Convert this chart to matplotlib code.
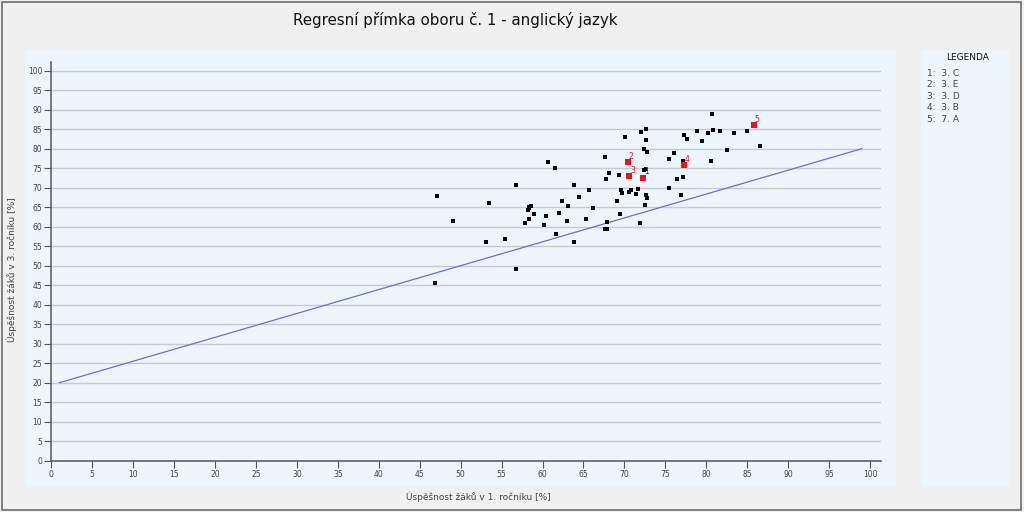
import matplotlib
matplotlib.use('Agg')
import matplotlib.pyplot as plt
from matplotlib.patches import Rectangle

plt.rcParams['font.family'] = ['DejaVu Sans']

# --------------------------
# DATA
# --------------------------
title = 'Regresní přímka oboru č. 1 - anglický jazyk'
x_label = 'Úspěšnost žáků v 1. ročníku [%]'
y_label = 'Úspěšnost žáků v 3. ročníku [%]'

# ostatní třídy (černé body)
x_other = [80.7, 70.1, 72.0, 72.6, 72.6, 72.4, 72.7, 77.3, 77.7, 78.9,
           80.2, 80.8, 81.7, 83.4, 85.0, 79.5, 86.6, 82.5, 76.0, 75.5,
           77.1, 80.6, 67.6, 60.7, 61.5, 72.4, 72.6, 68.1, 69.3, 67.8,
           76.4, 77.1, 56.7, 47.1, 63.9, 65.7, 69.6, 69.7, 70.5, 70.8,
           71.6, 71.4, 75.5, 72.6, 72.8, 76.9, 64.5, 53.4, 62.4, 69.1,
           63.1, 72.5, 58.6, 58.4, 58.3, 58.2, 66.2, 58.9, 62.0, 60.4,
           69.5, 49.1, 58.3, 57.9, 60.2, 63.0, 65.3, 67.9, 67.6, 67.9,
           71.9, 61.7, 53.1, 55.4, 63.9, 56.8, 46.9]
y_other = [89.0, 82.9, 84.2, 85.1, 82.1, 80.0, 79.1, 83.5, 82.5, 84.5,
           84.1, 84.7, 84.5, 84.1, 84.5, 82.0, 80.8, 79.6, 78.9, 77.4,
           76.8, 76.8, 77.9, 76.5, 75.1, 74.6, 74.8, 73.8, 73.3, 72.1,
           72.1, 72.8, 70.6, 67.8, 70.7, 69.5, 69.3, 68.6, 69.0, 69.5,
           69.7, 68.5, 69.9, 68.1, 67.3, 68.0, 67.6, 66.2, 66.7, 66.6,
           65.4, 65.6, 65.4, 65.0, 64.7, 64.4, 64.8, 63.3, 63.5, 62.8,
           63.3, 61.4, 62.0, 60.9, 60.4, 61.4, 62.0, 61.1, 59.5, 59.3,
           60.9, 58.2, 56.2, 56.9, 56.2, 49.2, 45.5]

# třídy oboru (červené body)
sel_ids = ['1', '2', '3', '4', '5']
sel_classes = ['3. C', '3. E', '3. D', '3. B', '7. A']
x_sel = [72.3, 70.4, 70.6, 77.3, 85.8]
y_sel = [72.6, 76.6, 72.9, 75.8, 86.1]

# regresní přímka (koncové body)
reg_x = [1, 99]
reg_y = [20, 80]

ticks = list(range(0, 101, 5))

# --------------------------
# STYL
# --------------------------
W, H = 1024, 512
c_fig = '#f0f0f0'
c_panel = '#edf5fd'
c_grid = '#c6cbd0'
c_axis = '#555555'
c_text = '#444444'
c_reg = '#6c6cdc'
c_red = '#e8141c'


def px_rect(x0, y0, x1, y1, **kw):
    return Rectangle((x0 / W, 1 - y1 / H), (x1 - x0) / W, (y1 - y0) / H,
                     transform=fig.transFigure, **kw)


fig = plt.figure(figsize=(W / 100, H / 100), dpi=100, facecolor=c_fig)

# panely
fig.patches.append(px_rect(1.5, 1.5, 1021, 509.5, facecolor='none',
                           edgecolor='#6e6e6e', linewidth=1.2, zorder=-2))
fig.patches.append(px_rect(25, 50, 896, 487, facecolor=c_panel,
                           edgecolor='none', zorder=-2))
fig.patches.append(px_rect(921, 50, 1009, 487, facecolor=c_panel,
                           edgecolor='none', zorder=-2))

ax = fig.add_axes([51.3 / W, 1 - 460.7 / H, (880.7 - 51.3) / W, (460.7 - 61.7) / H])
ax.set_zorder(1)
ax.set_facecolor('none')
ax.set_xlim(0, 101.3)
ax.set_ylim(0, 102.3)

for t in ticks[1:]:
    ax.axhline(t, color=c_grid, linewidth=1.0, zorder=1)

ax.plot(reg_x, reg_y, color=c_reg, linewidth=0.9, zorder=2)
ax.scatter(x_other, y_other, marker='s', s=5, color='black', linewidths=0, zorder=3)
ax.scatter(x_sel, y_sel, marker='s', s=14, color=c_red, linewidths=0, zorder=4)
for lab, xv, yv in zip(sel_ids, x_sel, y_sel):
    ax.annotate(lab, (xv, yv), xytext=(0.5, 0.8), textcoords='offset points',
                ha='left', va='bottom', fontsize=5.5, color=c_red, zorder=5)

ax.set_xticks(ticks)
ax.set_yticks(ticks)
ax.tick_params(axis='both', direction='out', length=5, width=0.8, color=c_axis,
               labelsize=5.5, labelcolor=c_text, pad=1.5)
for side in ['top', 'right']:
    ax.spines[side].set_visible(False)
for side in ['left', 'bottom']:
    ax.spines[side].set_color(c_axis)
    ax.spines[side].set_linewidth(1.1)

fig.text(455 / W, 1 - 20 / H, title, ha='center', va='center',
         fontsize=10.8, color='#111111')
fig.text(478 / W, 1 - 497 / H, x_label, ha='center', va='center',
         fontsize=6.5, color=c_text)
fig.text(12 / W, 1 - 270 / H, y_label, ha='center', va='center',
         rotation=90, fontsize=6.5, color=c_text)

# legenda
fig.text(968 / W, 1 - 58 / H, 'LEGENDA', ha='center', va='center',
         fontsize=6.5, color='#111111')
for i, (lab, cls) in enumerate(zip(sel_ids, sel_classes)):
    fig.text(927 / W, 1 - (73.5 + i * 11.4) / H, lab + ':  ' + cls,
             ha='left', va='center', fontsize=6.5, color=c_text)

plt.savefig('out.png', dpi=100, facecolor=c_fig)
